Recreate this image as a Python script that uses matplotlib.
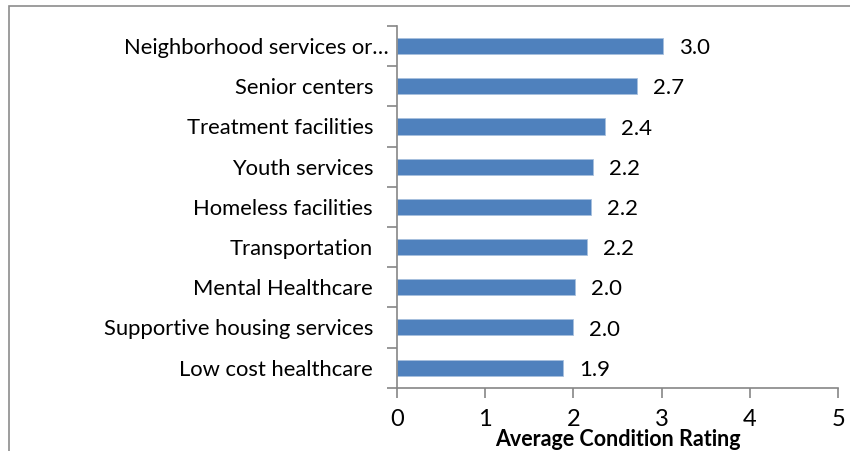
import matplotlib
matplotlib.use("Agg")
import matplotlib.pyplot as plt
import matplotlib.transforms as mtransforms
from matplotlib.patches import Rectangle

# data, bottom to top as drawn
categories = ["Low cost healthcare", "Supportive housing services", "Mental Healthcare",
              "Transportation", "Homeless facilities", "Youth services",
              "Treatment facilities", "Senior centers", "Neighborhood services or…"]
ratings = [1.88, 2.00, 2.02, 2.16, 2.20, 2.22, 2.36, 2.72, 3.02]
xticks = [0, 1, 2, 3, 4, 5]

plt.rcParams['font.family'] = ['Lato', 'DejaVu Sans']

fig = plt.figure(figsize=(8.5, 4.51), dpi=100)
ax = fig.add_axes([396.7 / 850, 1 - 387.7 / 451, (838.3 - 396.7) / 850, (387.7 - 26) / 451])

# outer chart frame (partly cropped in the reference)
fig.patches.append(Rectangle((9 / 850, -0.1), 1.2, 1 - 6 / 451 + 0.1, transform=fig.transFigure,
                             fill=False, edgecolor="#8c8c8c", linewidth=1.2))

y = range(len(categories))
bars = ax.barh(y, ratings, height=0.4, color="#4f81bd", edgecolor="#a7c0de", linewidth=0.6)

for yi, v in zip(y, ratings):
    ax.annotate(f"{v:.1f}", (v, yi), xytext=(11.5, -1.5), textcoords="offset points",
                ha="left", va="center", fontsize=16)

ax.set_xlim(0, 5)
ax.set_ylim(-0.5, len(categories) - 0.5)
ax.set_xticks(xticks)
ax.set_xticklabels([str(t) for t in xticks], fontsize=17)
ax.set_yticks(list(y))
ax.set_yticklabels(categories, fontsize=15.8)

# tick marks sit between categories (Excel style)
ax.set_yticks([i - 0.5 for i in range(len(categories) + 1)], minor=True)
ax.tick_params(axis="y", which="major", length=0, pad=17)
ax.tick_params(axis="y", which="minor", length=7, width=1.2, color="#868686")
ax.tick_params(axis="x", length=7, width=1.2, color="#868686", pad=8)

# truncated top label extends closer to the axis
top = ax.get_yticklabels()[-1]
top.set_transform(top.get_transform() + mtransforms.ScaledTranslation(16 / 100, 0, fig.dpi_scale_trans))

for s in ["top", "right"]:
    ax.spines[s].set_visible(False)
for s in ["left", "bottom"]:
    ax.spines[s].set_color("#868686")
    ax.spines[s].set_linewidth(1.2)

ax.set_xlabel("Average Condition Rating", fontsize=15.5, fontweight="bold")
ax.xaxis.set_label_coords(0.5, -0.114)

fig.savefig("out.png", dpi=100)
